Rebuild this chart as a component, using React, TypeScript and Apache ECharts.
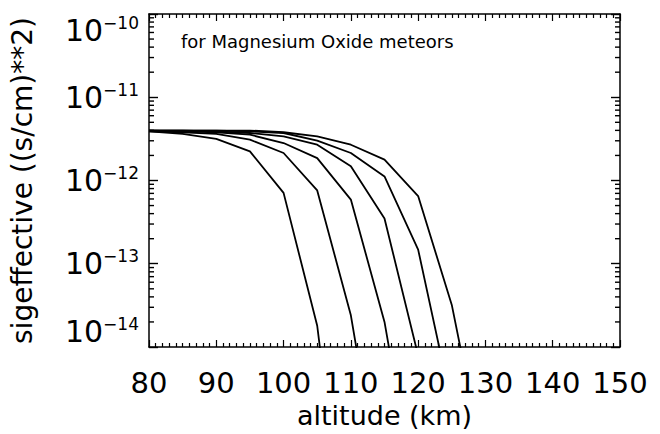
import React, { useEffect, useRef } from "react";
import * as echarts from "echarts";

// altitude samples (km)
const altitudes = [80, 85, 90, 95, 100, 105, 110, 115, 120, 125, 130];

// sigeffective ((s/cm)**2) for six curves, aligned with altitudes from 80 km
const curve1 = [3.89e-12, 3.63e-12, 3.16e-12, 2.24e-12, 7.1e-13, 1.8e-14, 1e-17];
const curve2 = [3.89e-12, 3.8e-12, 3.63e-12, 3.09e-12, 2.14e-12, 7.6e-13, 2.4e-14, 1e-16];
const curve3 = [3.98e-12, 3.89e-12, 3.8e-12, 3.55e-12, 2.82e-12, 1.86e-12, 5.9e-13, 2.0e-14, 1e-16];
const curve4 = [3.98e-12, 3.98e-12, 3.89e-12, 3.72e-12, 3.39e-12, 2.69e-12, 1.48e-12, 3.5e-13, 7.9e-15, 1e-16];
const curve5 = [3.98e-12, 3.98e-12, 3.98e-12, 3.89e-12, 3.72e-12, 3.02e-12, 2.14e-12, 1.12e-12, 1.48e-13, 2.0e-15];
const curve6 = [3.98e-12, 3.98e-12, 3.98e-12, 3.98e-12, 3.8e-12, 3.39e-12, 2.69e-12, 1.78e-12, 6.5e-13, 3.2e-14, 3.2e-16];
const curves = [curve1, curve2, curve3, curve4, curve5, curve6];

// axis ranges and tick definitions
const xMin = 80;
const xMax = 150;
const xInterval = 10;
const yMin = 1e-14;
const yMax = 1e-10;
const minorDecades = [-14, -13, -12, -11];
const minorMultipliers = [2, 3, 4, 5, 6, 7, 8, 9];

const annotation = "for Magnesium Oxide meteors";
const xTitle = "altitude (km)";
const yTitle = "sigeffective ((s/cm)**2)";

const FONT = "DejaVu Sans";
const TICK = "#000";

export default function App() {
  const ref = useRef<HTMLDivElement>(null);
  useEffect(() => {
    if (!ref.current) return;
    const chart = echarts.init(ref.current, undefined, { renderer: "svg" });

    const axisLine = { show: true, lineStyle: { color: "#000", width: 1.5 } };
    const xCommon = {
      type: "value" as const,
      min: xMin,
      max: xMax,
      interval: xInterval,
      axisLine,
      axisTick: { show: true, inside: true, length: 7, lineStyle: { color: "#000", width: 1.2 } },
      minorTick: { show: true, splitNumber: 10, length: 4, lineStyle: { color: "#000", width: 1.2 } },
      splitLine: { show: false },
      minorSplitLine: { show: false },
    };
    const yCommon = {
      type: "log" as const,
      logBase: 10,
      min: yMin,
      max: yMax,
      axisLine,
      axisTick: { show: true, inside: true, length: 9, lineStyle: { color: TICK, width: 1.4 } },
      splitLine: { show: false },
    };

    chart.setOption({
      animation: false,
      backgroundColor: "#fff",
      grid: { left: 149, top: 14, width: 471, height: 333, containLabel: false },
      xAxis: [
        {
          ...xCommon,
          position: "bottom",
          name: xTitle,
          nameLocation: "middle",
          nameGap: 50,
          nameTextStyle: { fontFamily: FONT, fontSize: 27, color: "#000", verticalAlign: "top" },
          axisLabel: { show: true, margin: 21, fontFamily: FONT, fontSize: 29, color: "#000" },
        },
        { ...xCommon, position: "top", axisLabel: { show: false } },
      ],
      yAxis: [
        {
          ...yCommon,
          position: "left",
          name: yTitle,
          nameLocation: "middle",
          nameRotate: 90,
          nameGap: 113,
          nameTextStyle: { fontFamily: FONT, fontSize: 28, color: "#000" },
          axisLabel: {
            show: true,
            margin: 10,
            verticalAlignMinLabel: "bottom",
            verticalAlignMaxLabel: "top",
            formatter: (v: number) => {
              const e = Math.round(Math.log10(v));
              return "{b|10}{e|\u2212" + Math.abs(e) + "}";
            },
            rich: {
              b: { fontFamily: FONT, fontSize: 30, color: "#000", lineHeight: 32 },
              e: { fontFamily: FONT, fontSize: 17, color: "#000", verticalAlign: "top", lineHeight: 17 },
            },
          },
        },
        { ...yCommon, position: "right", axisLabel: { show: false } },
      ],
      series: curves.map((c, i) => ({
        type: "line",
        name: "curve" + (i + 1),
        xAxisIndex: 0,
        yAxisIndex: 0,
        data: c.map((v, j) => [altitudes[j], v]),
        showSymbol: false,
        symbol: "none",
        clip: true,
        lineStyle: { color: "#000", width: 1.8 },
      })),
    });

    // minor log ticks (2..9 per decade) on left and right edges, placed through the axis scale
    const tickEls: any[] = [];
    minorDecades.forEach((d) =>
      minorMultipliers.forEach((k) => {
        const v = k * Math.pow(10, d);
        const pL = chart.convertToPixel({ xAxisIndex: 0, yAxisIndex: 0 }, [xMin, v]) as number[];
        const pR = chart.convertToPixel({ xAxisIndex: 0, yAxisIndex: 0 }, [xMax, v]) as number[];
        if (!pL || !pR) return;
        tickEls.push({
          type: "line",
          z: 100,
          shape: { x1: pL[0], y1: pL[1], x2: pL[0] + 5, y2: pL[1] },
          style: { stroke: TICK, lineWidth: 1.4 },
        });
        tickEls.push({
          type: "line",
          z: 100,
          shape: { x1: pR[0], y1: pR[1], x2: pR[0] - 5, y2: pR[1] },
          style: { stroke: TICK, lineWidth: 1.4 },
        });
      })
    );

    chart.setOption({
      graphic: [
        {
          type: "text",
          left: 181,
          top: 32,
          style: { text: annotation, fontFamily: FONT, fontSize: 18, fill: "#000" },
        },
        ...tickEls,
      ],
    });

    return () => chart.dispose();
  }, []);
  return (
    <div
      ref={ref}
      style={{ position: "fixed", left: 0, top: 0, width: 660, height: 434, background: "#fff" }}
    />
  );
}
